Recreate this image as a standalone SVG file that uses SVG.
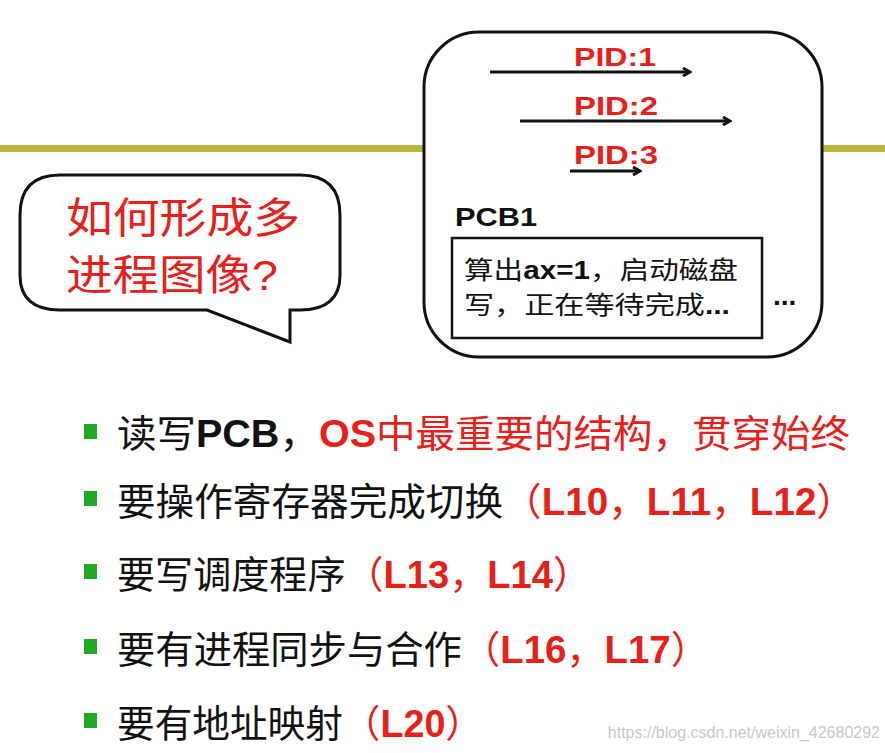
<svg xmlns="http://www.w3.org/2000/svg" width="885" height="753" viewBox="0 0 885 753">
<style>
.cn{font-family:"Liberation Sans","Noto Sans CJK SC",sans-serif}
.r{fill:#e8201a}
.b{font-weight:bold}
.k{fill:#111}
.ar{stroke:#111;stroke-width:3;fill:none}
</style>
<defs>
<marker id="ah" markerWidth="10" markerHeight="10" refX="8" refY="5" orient="auto" markerUnits="userSpaceOnUse"><path d="M1,1 L8,5 L1,9" fill="none" stroke="#111" stroke-width="3"/></marker>
</defs>
<rect width="885" height="753" fill="#fff"/>
<g id="rule"><rect x="0" y="145" width="425" height="7" fill="#b8b83a"/><rect x="820" y="145" width="65" height="7" fill="#b8b83a"/></g>
<g id="bubble">
<path d="M60,175 H300 Q340,175 340,215 V275 Q340,310 300,310 H290 V342 L207,310 H60 Q20,310 20,275 V215 Q20,175 60,175 Z" fill="#fff" stroke="#111" stroke-width="3"/>
<text class="cn r" x="66" y="233" font-size="42" textLength="234" lengthAdjust="spacingAndGlyphs">如何形成多</text>
<text class="cn r" x="66" y="290" font-size="42" textLength="212" lengthAdjust="spacingAndGlyphs">进程图像?</text>
</g>
<g id="pcbbox">
<rect x="424" y="32" width="398" height="325" rx="55" fill="#fff" stroke="#111" stroke-width="3"/>
<text class="cn r b" x="574" y="66" font-size="26" textLength="82" lengthAdjust="spacingAndGlyphs">PID:1</text>
<text class="cn r b" x="574" y="115" font-size="26" textLength="84" lengthAdjust="spacingAndGlyphs">PID:2</text>
<text class="cn r b" x="574" y="164" font-size="26" textLength="84" lengthAdjust="spacingAndGlyphs">PID:3</text>
<text class="cn k b" x="455" y="226" font-size="26" textLength="82" lengthAdjust="spacingAndGlyphs">PCB1</text>
<g id="pcb1"><rect x="452" y="238" width="310" height="100" fill="#fff" stroke="#111" stroke-width="2.5"/>
<text class="cn k" x="464" y="279" font-size="25" textLength="274" lengthAdjust="spacingAndGlyphs">算出<tspan class="b">ax=1</tspan>，启动磁盘</text>
<text class="cn k" x="464" y="314" font-size="25" textLength="266" lengthAdjust="spacingAndGlyphs">写，正在等待完成<tspan class="b">...</tspan></text></g>
<text class="cn k b" x="773" y="305" font-size="28">...</text>
</g>
<g id="connectors">
<line class="ar" x1="490" y1="72" x2="690" y2="72" marker-end="url(#ah)"/>
<line class="ar" x1="520" y1="121" x2="730" y2="121" marker-end="url(#ah)"/>
<line class="ar" x1="570" y1="171" x2="640" y2="171" marker-end="url(#ah)"/>
</g>
<g id="bullets" class="cn" font-size="38">
<rect x="84" y="424" width="13" height="15" fill="#22a822"/>
<rect x="84" y="491" width="13" height="15" fill="#22a822"/>
<rect x="84" y="564" width="13" height="15" fill="#22a822"/>
<rect x="84" y="639" width="13" height="15" fill="#22a822"/>
<rect x="84" y="713" width="13" height="15" fill="#22a822"/>
<text x="117" y="447" class="k" textLength="733" lengthAdjust="spacingAndGlyphs">读写<tspan class="b">PCB</tspan>，<tspan class="r"><tspan class="b">OS</tspan>中最重要的结构，贯穿始终</tspan></text>
<text x="117" y="515" class="k" textLength="738" lengthAdjust="spacingAndGlyphs">要操作寄存器完成切换<tspan class="r">（<tspan class="b">L10</tspan>，<tspan class="b">L11</tspan>，<tspan class="b">L12</tspan>）</tspan></text>
<text x="117" y="588" class="k" textLength="474" lengthAdjust="spacingAndGlyphs">要写调度程序<tspan class="r">（<tspan class="b">L13</tspan>，<tspan class="b">L14</tspan>）</tspan></text>
<text x="117" y="663" class="k" textLength="592" lengthAdjust="spacingAndGlyphs">要有进程同步与合作<tspan class="r">（<tspan class="b">L16</tspan>，<tspan class="b">L17</tspan>）</tspan></text>
<text x="117" y="737" class="k" textLength="366" lengthAdjust="spacingAndGlyphs">要有地址映射<tspan class="r">（<tspan class="b">L20</tspan>）</tspan></text>
</g>
<text class="cn" x="880" y="738" font-size="16" fill="#c8c8c8" text-anchor="end">https://blog.csdn.net/weixin_42680292</text>
</svg>
